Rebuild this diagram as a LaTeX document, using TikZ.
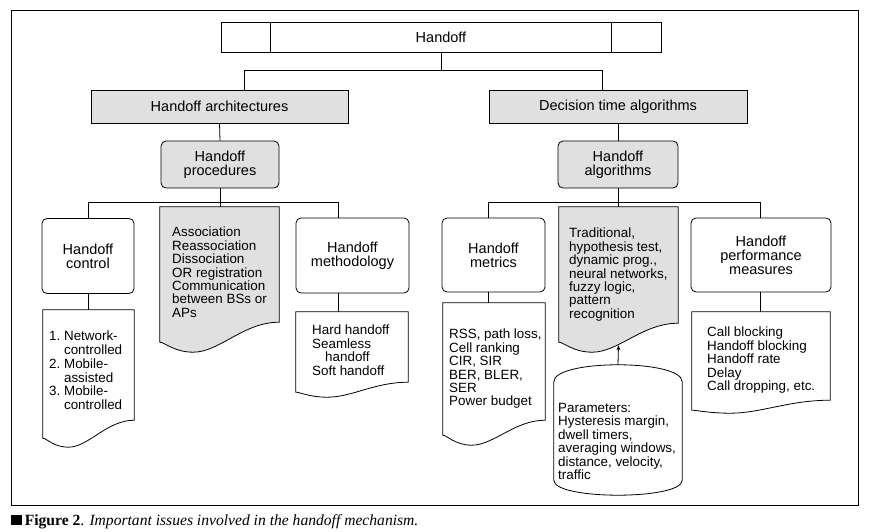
\documentclass[tikz,border=0pt]{standalone}
\usepackage{fontspec}
\setmainfont{Liberation Sans}
\newfontfamily\capfont{Liberation Serif}
\usetikzlibrary{calc,arrows.meta}
\newcommand\mydoc[4][]{%
 \draw[ln,#1] (#2.north west) -- (#2.north east) -- (#2.south east)
  .. controls ($(#2.south east)!0.3!(#2.south west)$) and ($(#2.south west)!0.5!(#2.south east)+(0,#4)$) .. ($(#2.south west)!0.28!(#2.south east)+(0,#4)$)
  .. controls ($(#2.south west)!0.12!(#2.south east)+(0,#4)$) and ($(#2.south west)!0.04!(#2.south east)+(0,#3)$) .. ($(#2.south west)+(0,#3)$) -- cycle;}
\begin{document}
\begin{tikzpicture}[x=1pt,y=-1pt,
  ln/.style={line width=0.8pt},
  shade/.style={fill=black!12},
  lbl/.style={font=\fontsize{14.5}{14}\selectfont, align=center},
  plainbox/.style={draw, line width=0.8pt, rectangle, inner sep=0pt, lbl},
  rbox/.style={plainbox, rounded corners=5pt},
  docnode/.style={rectangle, inner sep=0pt, draw=none},
  txt/.style={font=\fontsize{13.4}{13.4}\selectfont, align=left, inner sep=0pt, anchor=north west},
]
\useasboundingbox (0,0) rectangle (870,532);
\node[draw, line width=0.7pt, inner sep=0pt, minimum width=847pt, minimum height=495pt] (frame) at (434.5,257.5) {};

% top
\node[plainbox, minimum width=440pt, minimum height=30pt] (ho) at (441,37) {Handoff};
\draw[ln] ([xshift=50pt]ho.north west) -- ([xshift=50pt]ho.south west);
\draw[ln] ([xshift=-50pt]ho.north east) -- ([xshift=-50pt]ho.south east);

\node[plainbox, shade, minimum width=257pt, minimum height=33pt] (arch) at (219.5,106.5) {Handoff architectures};
\node[plainbox, shade, minimum width=258pt, minimum height=33pt] (dec) at (618,106.5) {Decision time algorithms};
\node[rbox, shade, minimum width=118pt, minimum height=47pt] (proc) at (220,164.5) {Handoff\\procedures};
\node[rbox, shade, minimum width=120pt, minimum height=47pt] (alg) at (618,164.5) {Handoff\\algorithms};

\draw[ln] (ho.south) -- ++(0,18) coordinate (hj);
\draw[ln] ([xshift=24.5pt]arch.north) |- (hj) -| ([xshift=-16pt]dec.north);
\draw[ln] (arch.south) -- (proc.north);
\draw[ln] (dec.south) -- (alg.north);

% left branch
\node[rbox, minimum width=92pt, minimum height=75pt] (ctrl) at (88,256) {Handoff\\control};
\node[rbox, minimum width=113pt, minimum height=75pt] (meth) at (352.5,255.5) {Handoff\\methodology};
\node[docnode, minimum width=91pt, minimum height=110pt] (ctrldoc) at (88.5,365) {};
\node[docnode, minimum width=119pt, minimum height=115pt] (assoc) at (219.5,264.5) {};
\node[docnode, minimum width=112pt, minimum height=70pt] (methdoc) at (352,347) {};

\draw[ln] (proc.south) -- ++(0,14) coordinate (pj);
\draw[ln] (ctrl.north) |- (pj) -| ([xshift=-14.5pt]meth.north);
\draw[ln] (pj) -- (pj |- assoc.north);
\draw[ln] (ctrl.south) -- (ctrl.south |- ctrldoc.north);
\draw[ln] ([xshift=-14.5pt]meth.south) coordinate (ms) -- (ms |- methdoc.north);

\mydoc{ctrldoc}{18}{27}
\mydoc[shade]{assoc}{20}{30}
\mydoc{methdoc}{10}{15}

\node[txt] (ctrltxt) at (49,331) {\begin{tabular}{@{}l@{\ }l@{}}1.&Network-\\&controlled\\2.&Mobile-\\&assisted\\3.&Mobile-\\&controlled\end{tabular}};
\node[txt] (assoctxt) at (172,227) {Association\\Reassociation\\Dissociation\\OR registration\\Communication\\between BSs or\\APs};
\node[txt] (methtxt) at (312,325) {Hard handoff\\Seamless\\\hspace*{13pt}handoff\\Soft handoff};

% right branch
\node[rbox, minimum width=103pt, minimum height=74pt] (met) at (493.5,255) {Handoff\\metrics};
\node[rbox, minimum width=140pt, minimum height=74pt] (perf) at (761,255) {Handoff\\performance\\measures};
\node[docnode, minimum width=102pt, minimum height=117pt] (metdoc) at (494,361.5) {};
\node[docnode, minimum width=119pt, minimum height=116pt] (algdoc) at (618.5,265) {};
\node[docnode, minimum width=138pt, minimum height=88pt] (perfdoc) at (761,356) {};

\draw[ln] (alg.south) -- ++(0,14) coordinate (aj);
\draw[ln] ([xshift=-5.5pt]met.north) |- (aj) -| ([xshift=-1pt]perf.north);
\draw[ln] (aj) -- (aj |- algdoc.north);
\draw[ln] ([xshift=-5.5pt]met.south) coordinate (mts) -- (mts |- metdoc.north);
\draw[ln] ([xshift=-1pt]perf.south) coordinate (pfs) -- (pfs |- perfdoc.north);

\mydoc{metdoc}{15}{25}
\mydoc[shade]{algdoc}{19}{29}
\mydoc{perfdoc}{10}{13}

% cylinder
\node[docnode, minimum width=128pt, minimum height=98pt] (cyl) at (618,431) {};
\draw[ln] (cyl.south west) -- (cyl.north west)
  .. controls ($(cyl.north west)+(0,-22.7)$) and ($(cyl.north east)+(0,-22.7)$) .. (cyl.north east)
  -- (cyl.south east)
  .. controls ($(cyl.south east)+(0,20)$) and ($(cyl.south west)+(0,20)$) .. (cyl.south west) -- cycle;
\coordinate (cyltop) at ($(cyl.north)+(0,-17)$);
\coordinate (atip) at ($(algdoc.south)+(0,22)$);
\draw[ln,-{Stealth[length=5pt,width=4pt]}] (cyltop) -- (atip);

\node[txt] (mettxt) at (449,329) {RSS, path loss,\\Cell ranking\\CIR, SIR\\BER, BLER,\\SER\\Power budget};
\node[txt] (algtxt) at (569,228) {Traditional,\\hypothesis test,\\dynamic prog.,\\neural networks,\\fuzzy logic,\\pattern\\recognition};
\node[txt] (cyltxt) at (558,403) {Parameters:\\Hysteresis margin,\\dwell timers,\\averaging windows,\\distance, velocity,\\traffic};
\node[txt] (perftxt) at (707,327) {Call blocking\\Handoff blocking\\Handoff rate\\Delay\\Call dropping, etc.};

% caption
\node[anchor=base west, inner sep=0pt, font=\capfont\fontsize{15.6}{18}\selectfont] (cap) at (11,525)
  {\rule{11pt}{10.5pt}\,{\bfseries Figure 2}. {\itshape Important issues involved in the handoff mechanism.}};
\end{tikzpicture}
\end{document}
